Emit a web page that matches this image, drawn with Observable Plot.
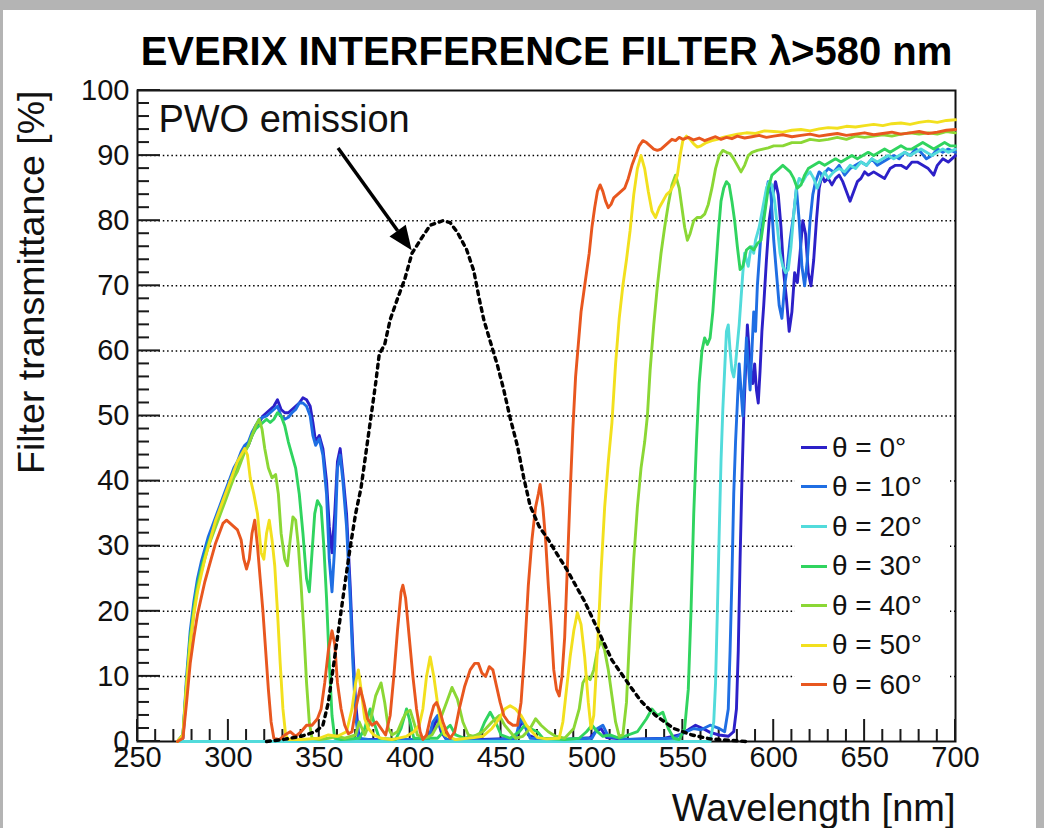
<!DOCTYPE html>
<html>
<head>
<meta charset="utf-8">
<script src="https://cdn.jsdelivr.net/npm/d3@7"></script>
<script src="https://cdn.jsdelivr.net/npm/@observablehq/plot@0.6"></script>
<style>
  html, body { margin: 0; padding: 0; }
  body { background: #b4b4b4; width: 1044px; height: 828px; overflow: hidden; font-family: 'Liberation Sans', Arial, sans-serif; }
  #panel { position: absolute; left: 3px; top: 10px; width: 1033px; height: 818px; background: #fff; }
  #chart { position: absolute; left: 0; top: 0; }
  #legend { position: absolute; left: 792px; top: 417.5px; width: 155px; background: #fff; }
  .row { position: relative; height: 39.6px; }
  .swatch { position: absolute; left: 6px; top: 18.3px; width: 26px; height: 3px; }
  .lab { position: absolute; left: 37px; top: 0; line-height: 39.6px; font-size: 28px; color: #111; white-space: nowrap; }
</style>
</head>
<body>
<div id="panel"><div id="chart"></div><div id="legend"></div></div>
<script>
// ---------------- data ----------------
const titleText = "EVERIX INTERFERENCE FILTER \u03bb>580 nm";
const xLabel = "Wavelength [nm]";
const yLabel = "Filter transmittance [%]";

const angles = [0, 10, 20, 30, 40, 50, 60];
const seriesColors = ["#2c20c8", "#1f6ee3", "#52dbdb", "#30d45f", "#8bd735", "#f2e01e", "#e8571f"];

const xMajor = [250, 300, 350, 400, 450, 500, 550, 600, 650, 700];
const yMajor = [0, 10, 20, 30, 40, 50, 60, 70, 80, 90, 100];
const yGrid = [10, 20, 30, 40, 50, 60, 70, 80, 90];

// transmittance curves: [wavelength nm, transmittance %]
const t0 = [[272,0],[275,0.5],[277,8],[279,15],[281,20],[283,24],[285,26.5],[287,29],[289,30.5],[291,32],[293,34],[295,35.5],[297,37],[299,38.5],[301,40],[303,41.5],[305,42.5],[307,44],[309,45],[311,45.5],[313,47],[315,48.5],[317,49],[319,50],[321,50.5],[323,51],[325,51.5],[327,52.5],[329,51],[331,50.5],[333,50.5],[335,51],[337,51.5],[339,52],[341,52.8],[343,52.5],[345,51.5],[346.5,49],[348,46],[350,47],[352,45],[354,40],[355.5,33],[357,29],[358.5,35],[360,43],[361.5,45],[363,41],[365,35],[367,24],[368.5,14],[370,6],[371.5,1.5],[373,0.3],[380,0.3],[395,0.2],[410,0.4],[412.5,2],[415,3.6],[417,1.5],[420,0.3],[440,0.3],[458,0.5],[460.5,2.5],[462.5,3],[465,1],[470,0.4],[485,0.3],[499,0.6],[502,1.5],[505,2],[508,0.6],[520,0.3],[540,0.5],[548,1],[553,1.8],[557,2.5],[561,2],[565,1.4],[570,1],[575,0.8],[578,1.5],[579.5,5],[580.5,14],[581.5,28],[582.5,40],[583.5,50],[584.5,57],[585.5,64],[586.5,60],[587.5,57],[588.5,55],[589.5,58],[590.5,54],[591.5,52],[592.5,57],[593.5,63],[594.5,67],[596,74],[597.5,80],[599.5,84],[601,86],[602.5,84],[604,79],[605.5,72],[607,68],[608.5,63],[610,66],[611.5,72],[613,70.5],[614.5,75],[616,80],[617.5,78],[619,72],[620.5,70],[622,74],[623.5,80],[625,85],[626.5,87],[628,86],[630,86.5],[632,85.5],[634,86.5],[636,87],[638,86],[640,84.5],[642,83],[644,84.5],[646,86],[648,86.5],[650,87.5],[652,87],[655,87.5],[658,87],[661,86.5],[664,88],[667,88.5],[670,88.5],[673,88],[676,89],[679,89],[682,88.5],[685,88],[688,87],[690,88.5],[693,89.5],[696,89],[700,90]];

const t10 = [[272,0],[275,1],[277,10],[279,17],[281,21.5],[283,25],[285,27.5],[287,29.5],[289,31.5],[291,33],[293,34.5],[295,36],[297,37.5],[299,39],[301,40.5],[303,42],[305,43],[307,44.5],[309,45.5],[311,46],[313,47.5],[315,48.5],[317,49.5],[319,49.8],[321,50],[323,50.5],[325,51],[327,51.5],[329,50],[331,49.5],[333,49.8],[335,50.5],[337,51],[339,52],[341,52],[343,51.5],[345,50],[346.5,47],[348,45.5],[350,46.5],[352,44],[354,38],[355.5,28],[357,23],[358.5,30],[360,42],[361.5,44],[363,40],[365,33],[367,22],[368.5,12],[370,4],[371.5,0.5],[380,0.2],[400,0.3],[410,0.3],[412.5,3],[415,4],[417,2],[420,0.3],[440,0.2],[458,0.4],[460.5,3.5],[463,2.5],[466,0.5],[485,0.3],[500,0.5],[503,2],[506,2.5],[509,0.8],[520,0.3],[545,0.5],[552,1.5],[556,2],[560,1.8],[565,2.5],[570,2],[573,1.5],[575,5],[576,14],[577,25],[578,38],[579,46],[580,52],[581,58],[582,54],[583,50],[584,56],[585,62],[586,58],[587,54],[588,60],[589,66],[590,63],[591,70],[593,78],[595,83],[597,86],[598.5,84],[600,77],[601.5,72],[603,67],[604.5,65],[606,70],[607.5,73],[609,77],[611,81],[612.5,85],[614,80],[615.5,73],[617,70],[618.5,74],[620,80],[621.5,84],[623,86],[625,87.5],[627,87],[630,88],[633,87.5],[636,88.5],[639,87],[642,88],[645,88.5],[648,89],[651,88.5],[654,89.5],[657,88.5],[660,89],[663,89.5],[666,90],[669,89.5],[672,90.5],[675,90],[678,91],[681,90.5],[684,89.5],[687,90],[690,91],[693,90.5],[696,91],[700,90.5]];

const t20 = [[272,0],[565,0],[567,3],[568,9],[569,20],[570,32],[571,43],[572,51],[573,57],[574,63],[575,64],[576,60],[577,57],[578,56],[579,58],[580,61],[581,64],[582,68],[583,72],[584,75],[585,74],[586,73],[587,75],[588,76],[589,75],[590,77],[592,79],[594,82],[596,85],[597.5,86],[599,85.5],[600.5,83],[602,79],[603.5,75],[605,73],[606.5,72],[608,72.5],[609.5,76],[611,81],[612.5,85],[614,86.5],[616,86],[618,87],[620,87.5],[622,86.5],[624,85],[626,86.5],[628,87.5],[630,86.5],[633,87.5],[636,88],[639,87.5],[642,88.5],[645,88],[648,89],[651,88.5],[654,89.5],[657,89],[660,89.5],[663,90],[666,89.5],[669,90],[672,90.5],[675,90],[678,90.5],[681,91],[684,90.5],[687,90],[690,90.5],[693,91],[696,90.5],[700,91]];

const t30 = [[272,0],[275,1],[277,9],[279,16],[281,20.5],[283,24],[285,26.5],[287,28.5],[289,30.5],[291,32],[293,33.5],[295,35],[297,36.5],[299,38],[301,39.5],[303,41],[305,42],[307,43.5],[309,44.5],[311,45.5],[313,47],[315,48],[317,48.5],[319,49],[321,49.5],[323,49],[325,49.5],[327,50.5],[329,50],[331,48.5],[333,46],[335,44],[337,42],[339,38],[341,32],[343,25],[344.5,23],[346,29],[347.5,35],[349,37],[351,36],[352.5,30],[354,22],[355.5,12],[357,4],[358.5,0.5],[362,0.3],[372,0.5],[375,2],[378,5],[380,3],[383,0.5],[392,0.3],[395,2],[398,5],[400,3],[402,0.5],[415,0.5],[420,2],[422,2.5],[425,1],[430,0.5],[438,1],[441,3],[444,4.5],[447,3],[450,1],[455,0.5],[460,1.5],[463,2.5],[466,2],[470,1.5],[473,0.5],[485,0.3],[493,0.5],[497,1.5],[500,2.5],[503,1.5],[506,0.8],[510,1],[515,0.5],[525,1.5],[530,3.5],[533,5],[536,4],[539,4.5],[542,2],[545,0.5],[548,0.3],[551,2],[553,8],[554.5,20],[556,35],[557.5,46],[559,55],[560.5,60],[562,62],[563.5,61],[565,62],[566.5,66],[568,72],[569.5,78],[571,83],[572.5,85],[574,86],[575.5,85.5],[577,83],[578.5,80],[580,76],[581.5,72.5],[583,73],[585,75.5],[587,76],[589,75.5],[591,76.5],[593,77],[595,81],[597,85],[599,87],[601,87.5],[603,88],[605,88.5],[607,88],[609,87.5],[611,86.5],[613,85],[615,85.5],[617,87],[619,88],[622,88.5],[625,89],[628,88.5],[631,89],[634,89.5],[637,89],[640,89.5],[643,90],[646,89.5],[649,90],[652,90.5],[655,90],[658,90.5],[661,91],[664,90.5],[667,91],[670,91.5],[673,91],[676,91],[679,91.5],[682,92],[685,91.5],[688,91],[691,91.5],[694,92],[697,91.5],[700,91.5]];

const t40 = [[272,0],[275,1],[277,9],[279,15.5],[281,20],[283,23.5],[285,26],[287,28],[289,30],[291,31.5],[293,33],[295,34.5],[297,36],[299,37.5],[301,39],[303,40.5],[305,41.5],[307,43],[309,44.5],[311,45.5],[313,47],[315,48.5],[317,49.5],[318.5,48],[320,45],[322,42],[324,40.5],[326,41],[327.5,38],[329,32],[331,28],[332.5,27],[334,31],[335.5,34.5],[337,34],[338.5,30],[340,24],[341.5,17],[343,9],[344.5,3],[346,0.5],[350,0.3],[355,0.5],[360,0.8],[364,0.5],[370,1],[372,3],[375,1],[378,3],[381,7],[384,9],[386,6],[388,2],[390,1],[393,1.5],[396,3.5],[398,4.5],[400,4.8],[402,3],[404,1],[408,0.5],[412,1],[416,3],[420,6],[423,8.3],[426,6.5],[429,3],[432,1],[435,0.8],[440,1.5],[445,3],[449,4],[452,2.5],[455,1.5],[458,0.5],[462,0.8],[466,2],[469,3.5],[472,2.5],[476,1.5],[480,0.8],[485,0.5],[490,2],[493,5],[495,9],[497,10],[499,9.5],[501,11],[503,14],[505,15.5],[507,14],[509,11],[511,7],[513,3],[515,0.8],[517,1],[519,6],[521,18],[523,28],[525,36],[527,42],[529,46],[530.5,50],[532,57],[534,64],[536,70],[538,75],[540,79],[542,82.5],[544,85.5],[546,87],[548,85],[549.5,82],[551,79],[552.5,77],[554,78],[556,80],[558,80.5],[560,80.5],[562,81],[564,82.5],[566,85],[568,88],[570,90],[572,90.8],[574,90.5],[576,90.3],[578,89.5],[580,88.5],[582,87.5],[584,88.5],[586,90],[588,90.5],[591,90.8],[594,91],[597,91.2],[600,91.5],[605,91.5],[610,92],[615,92],[620,92.5],[625,92.3],[630,92.5],[635,92.8],[640,92.5],[645,93],[650,92.8],[655,93],[660,93.2],[665,93],[670,93.3],[675,93.5],[680,93.3],[685,93.5],[690,93.3],[695,93.7],[700,93.5]];

const t50 = [[272,0],[275,1],[277,8.5],[279,15],[281,19.5],[283,23],[285,25.5],[287,28],[289,30],[291,32],[293,34],[295,35.5],[297,37],[299,38.5],[301,40],[303,41.5],[305,43],[307,44],[309,45],[310.5,44],[312,40.5],[314,38],[316,35],[318,29],[319.5,28],[321,32],[322.5,34],[324,31],[325.5,27],[327,20],[328.5,12],[330,5],[331.5,1],[333,0.3],[340,0.3],[350,0.5],[355,1],[360,0.8],[365,1.5],[368,5],[370,9],[371.5,11],[373,8],[375,3.5],[377,2],[380,1],[384,0.5],[390,0.3],[398,0.8],[402,1.5],[405,2.5],[407,5],[409,10],[411,13],[413,10],[415,6],[417,2.5],[419,1],[425,0.3],[435,0.6],[440,0.8],[445,2],[449,3.5],[452,5],[455,5.5],[458,5],[461,4],[464,2.5],[467,1.5],[470,0.6],[475,0.4],[482,0.5],[484,3],[486,8],[488,13],[490,17],[492,19.8],[494,18],[496,13],[498,6],[499.5,2],[501,4],[503,14],[505,26],[507,36],[509,43],[511,49],[513,58],[515,65],[517,70],[519,74],[521,78.5],[523,84],[525,88],[527,90],[529,88],[531,84.5],[533,81.5],[535,80.5],[537,82],[539,83],[541,84],[543,84.5],[545,85.5],[547,87],[548.5,90],[550,92.3],[552,93],[554,92.5],[556,91.8],[558,91.3],[560,91.5],[563,92],[566,92.3],[569,92.5],[572,92.8],[575,93],[580,93.3],[585,93.5],[590,93.4],[595,93.8],[600,93.7],[605,93.6],[610,93.9],[615,94],[620,93.8],[625,94.1],[630,94.3],[635,94.2],[640,94.5],[645,94.4],[650,94.6],[655,94.8],[660,94.6],[665,94.9],[670,95],[675,94.8],[680,95.1],[685,95.3],[690,95.1],[695,95.4],[700,95.5]];

const t60 = [[272,0],[275,0.5],[277,6],[279,12],[281,16],[283,19.5],[285,22],[287,24.5],[289,26.5],[291,28.5],[293,30.5],[295,32],[297,33.5],[299,34],[301,33.5],[303,33],[305,32.5],[307,31],[308.5,28],[310,26.5],[311.5,28],[313,32],[314.5,34],[316,30],[317.5,25],[319,20],[320.5,14],[322,8],[323.5,3],[325,0.5],[328,0.3],[331,1],[334,1.5],[337,0.8],[340,1.5],[343,2.5],[346,2.5],[349,3.5],[351,5],[353,9],[355,14],[357,17],[358.5,15],[360,9],[362,5],[364,2.5],[366,1.2],[368,1.5],[370,5],[372.5,8.2],[374.5,6],[376.5,3.5],[379,2.5],[381.5,3],[384,2],[386.5,1],[389,4],[391,10],[393,17],[395,23],[396,24],[397.5,22],[399.5,16],[401.5,10],[403.5,5],[405.5,1.5],[407,0.3],[409,1],[411,3.5],[413,5.5],[414.5,6],[416,5],[418,3],[420,1.5],[422,0.5],[424.5,1.5],[427,5],[430,8.5],[433,11],[435.5,12],[437.5,12],[439.5,10.5],[441.5,10],[443.5,11.5],[445.5,11],[447.5,8.5],[449.5,6],[451.5,4],[454,3],[456.5,2.5],[459,2.5],[461,6],[463,14],[465,24],[467,31],[469,36],[470.5,38],[471.5,39.5],[473,36],[474.5,31],[476,24],[477.5,18],[479,11],[480.5,8],[482,7],[483.5,10],[485,16],[486.5,27],[488,38],[489.5,48],[491,56],[492.5,61],[494,66],[495.5,69],[497,72],[498.5,75],[500,79],[501.5,82],[503,84.5],[504.5,85.5],[506,84.5],[507.5,83],[509,82],[510.5,82.5],[512,83.5],[514,84],[516,84.5],[518,85],[520,86.5],[522,88.5],[524,90],[526,91.5],[528,92.3],[530,92],[532,91.5],[534,91],[536,90.8],[538,91],[540,91.5],[542,92],[544,92.5],[546,92.3],[548,92.8],[550,92.5],[553,92.8],[556,92.4],[559,92.7],[562,92.3],[565,92.6],[568,92.9],[571,92.5],[574,92.8],[577,92.6],[580,93],[584,92.7],[588,92.9],[592,93.1],[596,92.8],[600,93],[605,93.2],[610,92.9],[615,93.1],[620,93.3],[625,93],[630,93.2],[635,93.4],[640,93.1],[645,93.3],[650,93.5],[655,93.2],[660,93.4],[665,93.6],[670,93.3],[675,93.5],[680,93.7],[685,93.4],[690,93.6],[695,93.9],[700,94]];

// PWO emission spectrum (normalised, dotted)
const pwo = [[321,0],[330,0.3],[340,0.8],[348,1.5],[352,2.5],[355,6],[358,12],[361,18],[364,24],[367,29.8],[370,35],[373,39],[376,45],[379,51],[381,55],[383,59.5],[386,61],[389,64.8],[393,68],[397,71],[401,75],[406,77.2],[411,79.3],[418,80],[422,79.7],[426,78.2],[431,75.6],[435,72.3],[438,68],[440.5,64.8],[444,61.5],[448,57.8],[451.5,54],[455,49.7],[459,45.4],[462.5,40.5],[466,36.2],[471,33],[476,31],[481,28.7],[486,26.5],[491,24],[496,21.5],[501,18.5],[506,15.5],[511,12.5],[516,10.5],[521,8.5],[527,6.2],[535,4],[545,2],[555,1],[565,0.4],[575,0.2],[585,0]];

// annotation
const pwoLabel = [{x: 261.5, y: 93.6, text: "PWO emission"}];
const arrowTail = [360.6, 91.1];
const arrowTip = [401.1, 75.4];

// ---------------- build ----------------
const curves = [t0, t10, t20, t30, t40, t50, t60];
const xMinor = d3.range(250, 701, 10).filter(v => v % 50 !== 0);
const yMinor = d3.range(0, 101, 2).filter(v => v % 10 !== 0);
const font = "'Liberation Sans', Arial, Helvetica, sans-serif";

const lineMarks = curves.map((c, i) =>
  Plot.line(c, {x: d => d[0], y: d => d[1], stroke: seriesColors[i], strokeWidth: 2.9, strokeLinejoin: "round"})
);

// inward ROOT-style ticks, positioned through the plot's own scales
const ticksMark = (index, scales, values, dims) => {
  const g = d3.create("svg:g").attr("stroke", "#1a1a1a").attr("stroke-width", 2).attr("fill", "none");
  const xl = dims.marginLeft, yb = dims.height - dims.marginBottom;
  const tick = (x1, y1, x2, y2) => g.append("line").attr("x1", x1).attr("y1", y1).attr("x2", x2).attr("y2", y2);
  yMajor.forEach(v => tick(xl, scales.y(v), xl + 23, scales.y(v)));
  yMinor.forEach(v => tick(xl, scales.y(v), xl + 12, scales.y(v)));
  xMajor.forEach(v => tick(scales.x(v), yb, scales.x(v), yb - 22));
  xMinor.forEach(v => tick(scales.x(v), yb, scales.x(v), yb - 12));
  return g.node();
};

const arrowMark = (index, scales) => {
  const x1 = scales.x(arrowTail[0]), y1 = scales.y(arrowTail[1]);
  const x2 = scales.x(arrowTip[0]), y2 = scales.y(arrowTip[1]);
  const a = Math.atan2(y2 - y1, x2 - x1), L = 24, W = 10;
  const bx = x2 - L * Math.cos(a), by = y2 - L * Math.sin(a);
  const g = d3.create("svg:g");
  g.append("line").attr("x1", x1).attr("y1", y1).attr("x2", bx).attr("y2", by)
    .attr("stroke", "#000").attr("stroke-width", 3.5);
  g.append("path")
    .attr("d", `M${x2},${y2}L${bx + W * Math.sin(a)},${by - W * Math.cos(a)}L${bx - W * Math.sin(a)},${by + W * Math.cos(a)}Z`)
    .attr("fill", "#000");
  return g.node();
};

const chart = Plot.plot({
  width: 1033,
  height: 818,
  marginLeft: 134,
  marginRight: 81,
  marginTop: 80,
  marginBottom: 87,
  x: {domain: [250, 700], label: null},
  y: {domain: [0, 100], label: null},
  style: {fontFamily: font, background: "transparent", color: "#000", overflow: "visible"},
  marks: [
    Plot.gridY(yGrid, {stroke: "#000", strokeOpacity: 1, strokeWidth: 1.5, strokeDasharray: "1.5,2.8"}),
    Plot.frame({stroke: "#111", strokeWidth: 2}),
    ticksMark,
    ...lineMarks,
    Plot.line(pwo, {x: d => d[0], y: d => d[1], stroke: "#000", strokeWidth: 3.4, strokeDasharray: "3.8,4.8"}),
    Plot.axisY(yMajor, {anchor: "left", tickSize: 0, tickPadding: 8, fontSize: 29, tickFormat: d => String(d), fill: "#111"}),
    Plot.axisX(xMajor, {anchor: "bottom", tickSize: 0, tickPadding: 5, fontSize: 29, tickFormat: d => String(d), fill: "#111"}),
    Plot.text([titleText], {text: d => d, frameAnchor: "top", dy: -26, lineAnchor: "bottom", fontSize: 40, fontWeight: "bold", fill: "#000"}),
    Plot.text([yLabel], {text: d => d, frameAnchor: "top-left", rotate: -90, textAnchor: "end", lineAnchor: "bottom", dx: -94, fontSize: 37.5, fill: "#111"}),
    Plot.text([xLabel], {text: d => d, frameAnchor: "bottom-right", textAnchor: "end", lineAnchor: "bottom", dy: 79, fontSize: 38, fill: "#111"}),
    Plot.text(pwoLabel, {x: "x", y: "y", text: "text", textAnchor: "start", lineAnchor: "bottom", fontSize: 38, fill: "#111"}),
    arrowMark
  ]
});
document.getElementById("chart").appendChild(chart);

// legend (overlay inside the frame)
const legend = d3.select("#legend");
angles.forEach((a, i) => {
  const row = legend.append("div").attr("class", "row");
  row.append("div").attr("class", "swatch").style("background", seriesColors[i]);
  row.append("div").attr("class", "lab").text(`\u03b8 = ${a}\u00b0`);
});
</script>
</body>
</html>
